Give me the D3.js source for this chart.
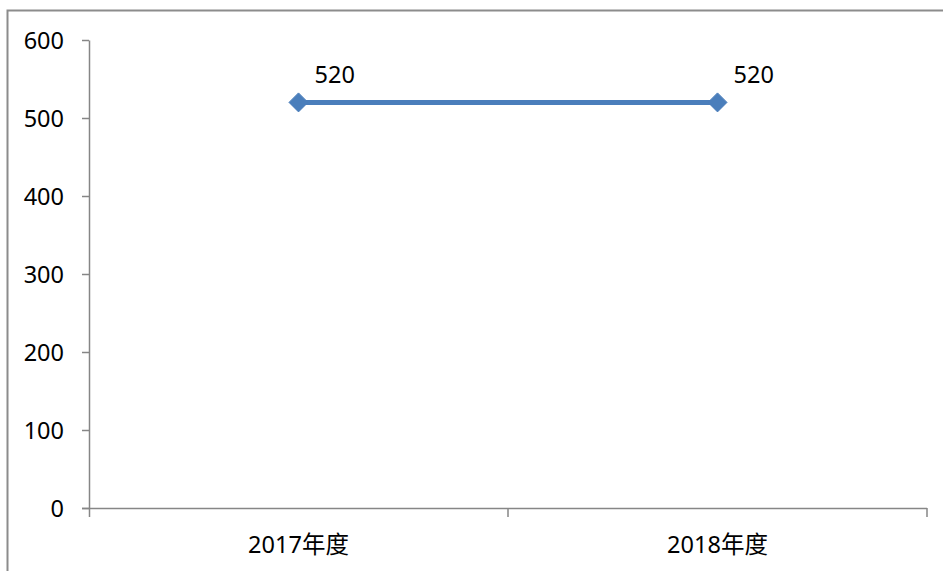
<!DOCTYPE html>
<html>
<head>
<meta charset="utf-8">
<script src="https://cdn.jsdelivr.net/npm/d3@7"></script>
<style>
  body { margin: 0; background: #fff; }
  text { font-family: "Noto Sans", "Noto Sans CJK SC", sans-serif; font-size: 23.5px; fill: #000; }
</style>
</head>
<body>
<div id="chart"></div>
<script>
// chart data
var categories = ["2017年度", "2018年度"];
var values = [520, 520];
var yTicks = [0, 100, 200, 300, 400, 500, 600];

var svgWidth = 943;
var svgHeight = 571;

var margin = { top: 40, right: 16, bottom: 63, left: 89 };
var width = 927 - margin.left;
var height = 508 - margin.top;

var svg = d3.select("#chart")
    .append("svg")
    .attr("width", svgWidth)
    .attr("height", svgHeight);

// outer chart border (runs off the right and bottom edges)
svg.append("rect")
    .attr("x", 7.5)
    .attr("y", 10.5)
    .attr("width", 1000)
    .attr("height", 1000)
    .attr("fill", "none")
    .attr("stroke", "#8c8c8c")
    .attr("stroke-width", 2);

var chartGroup = svg.append("g")
    .attr("transform", `translate(${margin.left}, ${margin.top})`);

var xScale = d3.scaleBand()
    .domain(categories)
    .range([0, width]);

var yScale = d3.scaleLinear()
    .domain([0, 600])
    .range([height, 0]);

// y axis
var leftAxis = d3.axisLeft(yScale)
    .tickValues(yTicks)
    .tickSize(7)
    .tickPadding(18);

var yAxis = chartGroup.append("g").call(leftAxis);
yAxis.select(".domain").attr("stroke", "#868686").attr("stroke-width", 1.5)
    .attr("d", `M0.5,0.5V${height + 9}`);
yAxis.selectAll(".tick line").attr("stroke", "#868686").attr("stroke-width", 1.5);
yAxis.selectAll(".tick text")
    .attr("font-size", null)
    .attr("font-family", null)
    .attr("dy", "0.36em");

// x axis with ticks on category boundaries
var xAxis = chartGroup.append("g")
    .attr("transform", `translate(0, ${height})`);
xAxis.append("line")
    .attr("x1", -7).attr("x2", width)
    .attr("y1", 0.5).attr("y2", 0.5)
    .attr("stroke", "#868686").attr("stroke-width", 1.5);
var bounds = categories.map(d => xScale(d)).concat([width]);
xAxis.selectAll(".xtick")
    .data(bounds.slice(1))
    .enter()
    .append("line")
    .attr("x1", d => d).attr("x2", d => d)
    .attr("y1", 0).attr("y2", 9)
    .attr("stroke", "#868686").attr("stroke-width", 1.5);
xAxis.selectAll(".xlabel")
    .data(categories)
    .enter()
    .append("text")
    .attr("x", d => xScale(d) + xScale.bandwidth() / 2)
    .attr("y", 45)
    .attr("text-anchor", "middle")
    .text(d => d);

// series line
var points = categories.map((c, i) => ({ cat: c, value: values[i] }));
var line = d3.line()
    .x(d => xScale(d.cat) + xScale.bandwidth() / 2)
    .y(d => yScale(d.value));

chartGroup.append("path")
    .datum(points)
    .attr("d", line)
    .attr("fill", "none")
    .attr("stroke", "#4a7ebb")
    .attr("stroke-width", 5);

// diamond markers
chartGroup.selectAll(".marker")
    .data(points)
    .enter()
    .append("path")
    .attr("d", "M0,-9.5L9.5,0L0,9.5L-9.5,0Z")
    .attr("transform", d => `translate(${xScale(d.cat) + xScale.bandwidth() / 2}, ${yScale(d.value)})`)
    .attr("fill", "#4a7ebb")
    .attr("stroke", "#4a7ebb");

// data labels
chartGroup.selectAll(".dlabel")
    .data(points)
    .enter()
    .append("text")
    .attr("x", d => xScale(d.cat) + xScale.bandwidth() / 2 + 16)
    .attr("y", d => yScale(d.value) - 19)
    .text(d => d.value);
</script>
</body>
</html>
